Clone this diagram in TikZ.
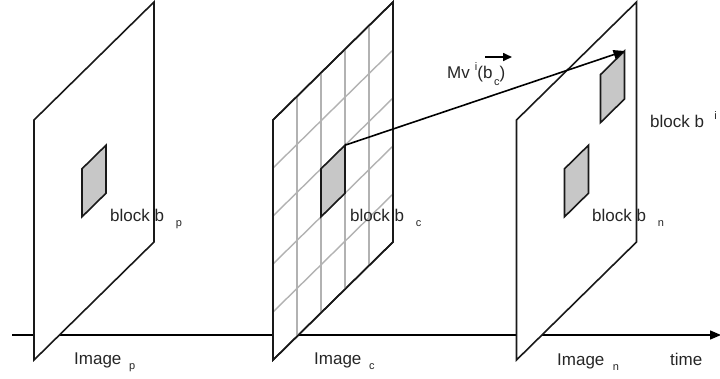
\documentclass[tikz,border=0pt]{standalone}
\usepackage{fontspec}
\setmainfont{Liberation Sans}
\usetikzlibrary{arrows.meta}
\definecolor{blockgray}{gray}{0.78}
\definecolor{gridgray}{gray}{0.7}
\newcommand{\lowsub}[2][0.7em]{\hspace{#1}\raisebox{-5pt}{\fontsize{11}{11}\selectfont #2}}
\newcommand{\highsup}[2][0.6em]{\hspace{#1}\raisebox{8pt}{\fontsize{11}{11}\selectfont #2}}

\begin{document}
\begin{tikzpicture}[
  x=1pt,y=-1pt,
  frame/.style={draw=black!90,line width=1.6pt,fill=white},
  blk/.style={draw=black!90,line width=1.6pt,fill=blockgray},
  gridline/.style={draw=gridgray,line width=1.4pt},
  lab/.style={font=\fontsize{17}{17}\selectfont,text=black!85,inner sep=0pt,anchor=base west},
  >={Triangle[length=11pt,width=9pt]}
]
\useasboundingbox (0,0) rectangle (720,378);

\coordinate (t0) at (12,335);
\coordinate (t1) at (721,335);
\draw[line width=1.3pt,->] (t0) -- (t1);

\foreach \px/\nm in {34/p,273/c,516.5/n}{
  \begin{scope}[shift={(\px,360)},x={(120pt,118pt)},y={(0pt,240pt)}]
    \draw[frame] (0,0) -- (1,0) -- (1,1) -- (0,1) -- cycle;
    \coordinate (\nm-a) at (0.4,0.4);
    \coordinate (\nm-b) at (0.6,0.4);
    \coordinate (\nm-c) at (0.6,0.6);
    \coordinate (\nm-d) at (0.4,0.6);
  \end{scope}
}

\begin{scope}[shift={(273,360)},x={(120pt,118pt)},y={(0pt,240pt)}]
  \foreach \k in {0.2,0.4,0.6,0.8}{
    \draw[gridline] (\k,0) -- (\k,1);
    \draw[gridline] (0,\k) -- (1,\k);
  }
  \draw[frame,fill=none] (0,0) -- (1,0) -- (1,1) -- (0,1) -- cycle;
\end{scope}

\begin{scope}[shift={(516.5,360)},x={(120pt,118pt)},y={(0pt,240pt)}]
  \coordinate (u-a) at (0.7,0.645);
  \coordinate (u-b) at (0.9,0.645);
  \coordinate (u-c) at (0.9,0.845);
  \coordinate (u-d) at (0.7,0.845);
\end{scope}

\foreach \nm in {p,c,n,u}
  \draw[blk] (\nm-a) -- (\nm-b) -- (\nm-c) -- (\nm-d) -- cycle;

\draw[line width=1.6pt,->] (c-c) -- (u-c);

\node[lab] (bp) at (110,221) {block b\lowsub{p}};
\node[lab] (bc) at (350,221) {block b\lowsub{c}};
\node[lab] (bn) at (592,221) {block b\lowsub{n}};
\node[lab] (bi) at (650,127) {block b\highsup{i}};

\node[lab] (ip) at (74,364) {Image\lowsub[0.45em]{p}};
\node[lab] (ic) at (314,364) {Image\lowsub[0.45em]{c}};
\node[lab] (imn) at (557,365) {Image\lowsub[0.5em]{n}};
\node[lab] (tm) at (670,365) {time};

\node[lab] (mv) at (447,78) {Mv\highsup[0.3em]{i}(b\lowsub[0.1em]{\raisebox{-2pt}{c}})};
\coordinate (vs) at (485,57);
\coordinate (ve) at (512,57);
\draw[line width=1.6pt,-{Triangle[length=9pt,width=8pt]}] (vs) -- (ve);

\end{tikzpicture}
\end{document}
